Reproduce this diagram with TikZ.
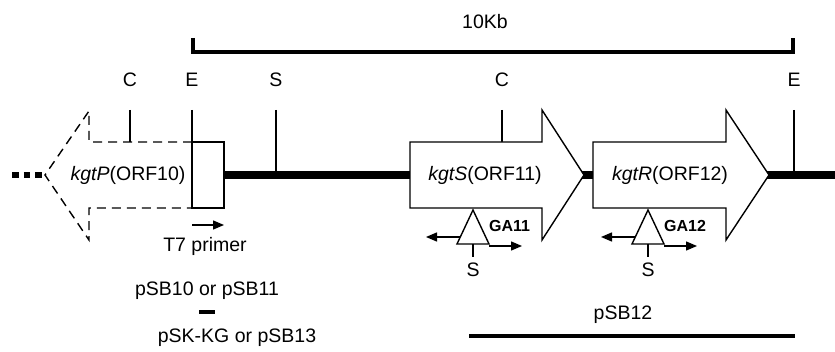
\documentclass[tikz,border=0pt]{standalone}
\usepackage{fontspec}
\setmainfont{Liberation Sans}
\usetikzlibrary{arrows.meta,positioning}

\begin{document}
\begin{tikzpicture}[
    x=1pt, y=-1pt,
    txt/.style={font=\fontsize{19.5}{22}\selectfont, inner sep=0pt},
    galabel/.style={font=\fontsize{16}{18}\selectfont\bfseries, inner sep=0pt},
    genebox/.style={draw, line width=1.4pt, fill=white, line join=miter},
    backbone/.style={line width=7.5pt},
    tick/.style={line width=1.4pt},
    bar/.style={line width=4.5pt},
    primer/.style={line width=1.4pt, -{Triangle[length=11pt,width=9pt]}},
]
\useasboundingbox (0,0) rectangle (835,352);

% scale bar
\node[txt] (kb) at (485,22) {10Kb};
\draw[bar] (193,38) -- (193,52) -- (793,52) -- (793,38);

% restriction sites
\foreach \nm/\x/\lab/\y in {c1/130/C/142, e1/192/E/142, s1/276/S/175, c2/502/C/142, e2/794/E/175} {
  \node[txt] (\nm) at (\x,80) {\lab};
  \draw[tick] (\x,110) -- (\x,\y);
}

% backbone
\draw[backbone] (224,175) -- (835,175);
\draw[line width=6pt, dash pattern=on 6.5pt off 5pt] (12.3,175) -- (41.8,175);

% genes
\draw[tick, dash pattern=on 9pt off 6pt] (192,142) -- (89,142) -- (89,111) -- (45,175)
  -- (89,240) -- (89,208) -- (192,208);
\draw[genebox] (192,142) rectangle (224,208);
\draw[genebox] (410,142) -- (542,142) -- (542,110) -- (584,175) -- (542,240) -- (542,208)
  -- (410,208) -- cycle;
\draw[genebox] (593,142) -- (726,142) -- (726,110) -- (769,175) -- (726,240) -- (726,208)
  -- (593,208) -- cycle;
\node[txt] (orf10) at (128,175) {\textit{kgtP}(ORF10)};
\node[txt] (orf11) at (485,175) {\textit{kgtS}(ORF11)};
\node[txt] (orf12) at (670,175) {\textit{kgtR}(ORF12)};

% T7 primer
\coordinate (t7a) at (192,225);
\coordinate (t7b) at (224,225);
\draw[primer] (t7a) -- (t7b);
\node[txt] (t7) at (205,246) {T7 primer};

% insertions
\foreach \nm/\x/\lab in {ga11/473/GA11, ga12/648/GA12} {
  \draw[tick, line join=miter] (\x,210) -- ++(-16,34) -- ++(32,0) -- cycle;
  \draw[tick] (\x,244) -- (\x,257);
  \node[txt] (\nm s) at (\x,270) {S};
  \node[galabel, anchor=west] (\nm) at (\x+16,226) {\lab};
  \draw[primer] (\x-13,237) -- (\x-47,237);
  \draw[primer] (\x+16,246) -- (\x+49,246);
}

% plasmids
\node[txt] (psb10) at (207,291) {pSB10 or pSB11};
\coordinate (kga) at (199,312);
\coordinate (kgb) at (215,312);
\draw[bar] (kga) -- (kgb);
\node[txt] (pskkg) at (237,338) {pSK-KG or pSB13};
\node[txt] (psb12) at (623,315) {pSB12};
\coordinate (p12a) at (469,336);
\coordinate (p12b) at (795,336);
\draw[bar] (p12a) -- (p12b);
\end{tikzpicture}
\end{document}
